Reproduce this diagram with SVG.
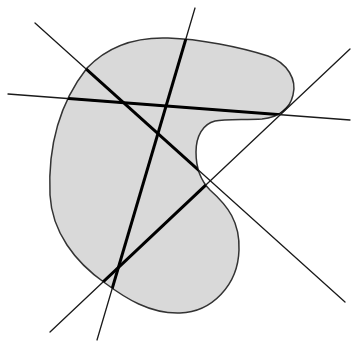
<svg xmlns="http://www.w3.org/2000/svg" width="351" height="342" viewBox="0 0 351 342">
<defs>
<clipPath id="clip"><path d="M 87,68 C 110,44 140,37 168,38 C 200,39 240,47 268,56 C 288,63 297,80 293,95 C 290,108 280,117 262,119 C 245,120 225,119 215,121 C 203,124 196,136 196,152 C 196,168 200,180 210,190 C 228,206 240,222 239,250 C 238,285 212,312 180,313 C 150,314 125,298 105,283 C 75,262 52,232 50,195 C 48,150 58,105 87,68 Z"/></clipPath>
<style>
.thin{stroke:#1a1a1a;stroke-width:1.3;fill:none;stroke-linecap:round}
.thick{stroke:#000;stroke-width:3;fill:none}
.blob{fill:#d9d9d9;stroke:#333;stroke-width:1.5}
</style>
</defs>
<rect width="351" height="342" fill="#fff"/>
<g id="shape"><path class="blob" d="M 87,68 C 110,44 140,37 168,38 C 200,39 240,47 268,56 C 288,63 297,80 293,95 C 290,108 280,117 262,119 C 245,120 225,119 215,121 C 203,124 196,136 196,152 C 196,168 200,180 210,190 C 228,206 240,222 239,250 C 238,285 212,312 180,313 C 150,314 125,298 105,283 C 75,262 52,232 50,195 C 48,150 58,105 87,68 Z"/></g>
<g id="lines">
<line class="thin" x1="35" y1="23" x2="345" y2="302"/>
<line class="thin" x1="8" y1="94" x2="350" y2="120"/>
<line class="thin" x1="195" y1="8" x2="97" y2="340"/>
<line class="thin" x1="50" y1="332" x2="350" y2="49"/>
<g clip-path="url(#clip)">
<line class="thick" x1="35" y1="23" x2="345" y2="302"/>
<line class="thick" x1="8" y1="94" x2="350" y2="120"/>
<line class="thick" x1="195" y1="8" x2="97" y2="340"/>
<line class="thick" x1="50" y1="332" x2="350" y2="49"/>
</g>
</g>
</svg>
